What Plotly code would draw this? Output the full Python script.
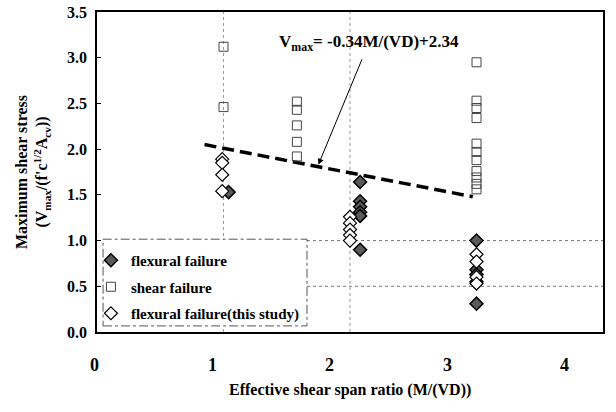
import plotly.graph_objects as go

# ---- data ----
flex_x = [1.04, 2.08, 2.08, 2.08, 2.08, 2.08, 2.08, 3.0, 3.0, 3.0, 3.0, 3.0]
flex_y = [1.53, 1.64, 1.43, 1.37, 1.31, 1.27, 0.90, 1.00, 0.68, 0.63, 0.55, 0.31]

shear_x = [1.0, 1.0, 1.58, 1.58, 1.58, 1.58, 1.58,
           3.0, 3.0, 3.0, 3.0, 3.0, 3.0, 3.0, 3.0, 3.0, 3.0, 3.0]
shear_y = [3.12, 2.46, 2.52, 2.43, 2.26, 2.08, 1.92,
           2.95, 2.53, 2.45, 2.34, 2.06, 1.97, 1.88, 1.76, 1.69, 1.62, 1.56]

study_x = [0.99, 0.99, 0.99, 0.99, 2.0, 2.0, 2.0, 2.0, 2.0, 3.0, 3.0, 3.0, 3.0]
study_y = [1.89, 1.85, 1.72, 1.54, 1.26, 1.19, 1.12, 1.06, 1.00, 0.85, 0.77, 0.60, 0.53]

fit_x = [0.85, 2.97]
fit_y = [2.05, 1.48]

x_tick_labels = ["0", "1", "2", "3", "4"]
y_ticks = [0.0, 0.5, 1.0, 1.5, 2.0, 2.5, 3.0, 3.5]
y_grid = [0.5, 1.0]
x_grid = [1, 2]

arrow_head = (1.75, 1.83)
arrow_tail = (2.10, 3.0)

FONT = "Liberation Serif"

fig = go.Figure()

fig.add_trace(go.Scatter(
    x=fit_x, y=fit_y, mode="lines", showlegend=False,
    line=dict(color="black", width=3.5, dash="12px,6px")))

fig.add_trace(go.Scatter(
    x=flex_x, y=flex_y, mode="markers", name="flexural failure", legendgroup="a",
    marker=dict(symbol="diamond", size=10, color="#5a5a5a",
                line=dict(color="black", width=1.5))))

fig.add_trace(go.Scatter(
    x=shear_x, y=shear_y, mode="markers", name="shear failure", legendgroup="b",
    marker=dict(symbol="square-open", size=9, color="#444444",
                line=dict(width=1))))

fig.add_trace(go.Scatter(
    x=study_x, y=study_y, mode="markers", name="flexural failure(this study)",
    legendgroup="c",
    marker=dict(symbol="diamond", size=10, color="white",
                line=dict(color="black", width=1.2))))

shapes = []
for v in y_grid:
    shapes.append(dict(type="line", xref="paper", x0=0, x1=1, yref="y", y0=v, y1=v,
                       line=dict(color="#777777", width=1, dash="dot"), layer="below"))
for v in x_grid:
    shapes.append(dict(type="line", xref="x", x0=v, x1=v, yref="paper", y0=0, y1=1,
                       line=dict(color="#999999", width=1, dash="dot"), layer="below"))
# legend frame
shapes.append(dict(type="rect", xref="paper", yref="paper", x0=0.012, x1=0.415,
                   y0=0.019, y1=0.29, fillcolor="white",
                   line=dict(color="#555555", width=1, dash="dashdot"), layer="above"))

# x tick labels of the original are slightly compressed relative to the axis
annotations = []
for i, t in enumerate(x_tick_labels):
    annotations.append(dict(x=-0.004 + i * 0.2322, y=-0.103, xref="paper", yref="paper",
                            text=t, showarrow=False, xanchor="center", yanchor="middle",
                            font=dict(family=FONT, size=18, weight="bold")))
annotations.append(dict(x=0.5, y=-0.181, xref="paper", yref="paper", showarrow=False,
                        xanchor="center", yanchor="middle",
                        text="Effective shear span ratio (M/(VD))",
                        font=dict(family=FONT, size=16, weight="bold")))
annotations.append(dict(x=arrow_head[0], y=arrow_head[1], ax=arrow_tail[0], ay=arrow_tail[1],
                        xref="x", yref="y", axref="x", ayref="y", text="",
                        showarrow=True, arrowhead=2, arrowsize=1.2, arrowwidth=1,
                        arrowcolor="black"))
annotations.append(dict(x=2.15, y=3.16, xref="x", yref="y", showarrow=False,
                        text="V<sub>max</sub>= -0.34M/(VD)+2.34",
                        font=dict(family=FONT, size=17, weight="bold")))

fig.update_layout(
    width=616, height=412,
    margin=dict(l=97, r=13, t=12, b=80, autoexpand=False),
    paper_bgcolor="white", plot_bgcolor="white",
    font=dict(family=FONT, color="black", size=14),
    shapes=shapes,
    xaxis=dict(range=[0, 4], showticklabels=False, showgrid=False, zeroline=False,
               showline=True, linecolor="black", linewidth=1.5, mirror=True,
               ticks="", automargin=False),
    yaxis=dict(range=[0, 3.5], tickvals=y_ticks,
               ticktext=[f"{v:.1f}" for v in y_ticks],
               showgrid=False, zeroline=False, automargin=False,
               showline=True, linecolor="black", linewidth=1.5, mirror=True,
               ticks="inside", ticklen=4, tickcolor="black",
               ticklabelstandoff=5,
               tickfont=dict(family=FONT, size=16, weight="bold"),
               title=dict(text="Maximum shear stress<br>(V<sub>max</sub>/(f'c<sup>1/2</sup>A<sub>cv</sub>))",
                          font=dict(family=FONT, size=16, weight="bold"),
                          standoff=15)),
    legend=dict(x=-0.012, y=0.275, xanchor="left", yanchor="top",
                bgcolor="rgba(0,0,0,0)", borderwidth=0,
                font=dict(family=FONT, size=15, weight="bold"),
                itemwidth=30, tracegroupgap=4),
    annotations=annotations,
)

fig.write_html("out.html")
